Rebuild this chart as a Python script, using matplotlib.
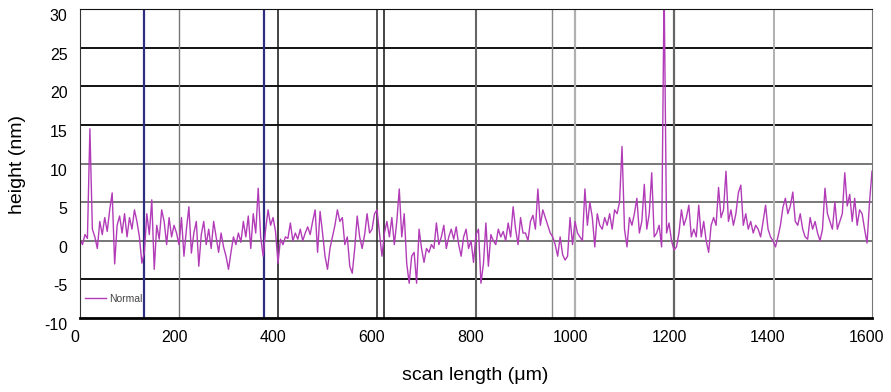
import numpy as np
import matplotlib
matplotlib.use("Agg")
import matplotlib.pyplot as plt
import matplotlib.transforms as mtransforms

plt.rcParams['font.family'] = ['Liberation Sans', 'DejaVu Sans']
plt.rcParams['axes.unicode_minus'] = False

# surface profile, one value every 5 um from 0 to 1600
step_um = 5
height_nm = [
    # 0-95
    0.2, -0.5, 0.8, 0.3, 14.5, 1.5, 0.5, -1.0, 2.5, 0.8,
    3.0, 1.2, 4.0, 6.2, -3.0, 2.0, 3.2, 1.0, 3.5, 0.5,
    # 100-195
    3.0, 1.5, 4.0, 2.5, 0.5, -2.9, -1.5, 3.5, 0.8, 5.3,
    -3.7, 2.0, 0.2, 4.0, 2.5, -0.5, 3.0, 0.5, 2.0, 1.0,
    # 200-295
    -0.5, 3.0, -2.0, 1.5, 4.4, -1.6, 1.0, 2.5, -3.3, 0.8,
    2.5, -0.5, 1.5, -1.0, 2.5, 0.5, -1.5, 1.0, -0.8, -2.0,
    # 300-395
    -3.7, -1.5, 0.5, -0.5, 1.0, -0.2, 2.5, 0.5, 3.2, -1.0,
    3.5, 1.0, 6.8, 0.5, -2.0, 1.5, 4.0, 2.0, 3.0, 1.2,
    # 400-495
    -2.9, 0.2, -0.5, 0.5, 0.3, 2.3, 0.0, 1.0, 0.2, 1.5,
    0.0, 1.0, 1.8, 0.8, 2.5, 4.0, -1.5, 3.8, 1.0, -2.0,
    # 500-595
    -3.7, -1.0, 0.5, 2.0, 4.0, 2.5, 3.0, -0.5, 0.5, -3.3,
    -4.2, -1.0, 3.2, 0.5, -1.0, 0.8, 3.5, 1.0, 1.5, 3.5,
    # 600-695
    4.0, 1.0, -2.0, 1.0, 2.5, 0.5, 3.0, -0.5, 2.5, 6.7,
    0.5, 3.5, -2.9, -5.5, -2.0, -1.5, -5.5, 1.5, -1.0, -2.8,
    # 700-795
    -1.0, -1.5, -0.5, -1.0, 2.3, -0.5, 0.5, 2.0, -1.0, 0.5,
    1.5, 0.2, 1.8, -0.5, -2.0, 0.5, 1.5, -1.0, 0.0, -2.8,
    # 800-895
    0.8, 1.5, -5.5, -3.0, 2.3, -3.3, 0.8, 0.0, -0.5, 1.5,
    0.5, 1.2, 0.0, 2.3, 0.5, 4.4, 1.5, -0.5, 3.0, 1.0,
    # 900-995
    1.0, 0.0, 2.5, 3.3, 1.5, 6.7, 2.0, 4.0, 3.0, 2.0,
    1.0, 0.5, -0.5, -2.0, 0.5, -1.8, -2.5, -2.0, 3.0, -0.5,
    # 1000-1095
    2.5, 1.0, 0.5, 0.0, 6.7, 2.0, 5.0, 3.0, -0.8, 3.5,
    2.0, 1.5, 3.0, 2.0, 3.5, 1.5, 4.0, 3.5, 5.0, 12.2,
    # 1100-1195
    1.5, -0.8, 3.0, 2.0, 3.5, 5.5, 1.0, 2.5, 7.3, 1.5,
    3.5, 8.8, 0.5, 1.0, 2.0, -0.8, 33.0, 1.0, 2.3, 0.0,
    # 1200-1295
    -1.2, -0.8, 1.0, 4.0, 2.0, 3.0, 4.6, 0.5, 1.5, 0.5,
    4.6, 0.5, 2.5, 0.0, -1.5, 2.0, 3.0, 2.0, 6.9, 3.0,
    # 1300-1395
    4.0, 9.0, 2.5, 4.0, 2.0, 3.5, 6.2, 7.2, 2.0, 3.5,
    1.5, 2.5, 1.0, 2.0, 1.5, 0.5, 2.5, 4.6, 1.5, 0.5,
    # 1400-1495
    0.0, -0.8, 0.5, 2.0, 4.3, 5.5, 3.5, 4.5, 6.3, 2.5,
    2.0, 3.5, 1.5, 0.5, 0.2, 3.0, 1.5, 2.5, 1.0, 0.0,
    # 1500-1600
    1.5, 6.8, 3.5, 2.5, 1.5, 5.0, 1.5, 2.5, 3.5, 8.8,
    4.5, 6.0, 2.5, 5.5, 2.0, 4.0, 3.5, 1.5, -0.3, 5.0,
    9.0,
]
scan_um = np.arange(len(height_nm)) * step_um

# extra vertical marker lines seen on the chart (position um, colour, width)
vline_pos = [129.5, 200.9, 371.6, 401, 599.3, 613.5, 800.4, 954, 1001, 1201, 1401.8]
vline_col = ['#2e2e80', '#777777', '#2e2e80', '#111111', '#222222', '#111111',
             '#666666', '#888888', '#b0b0b0', '#666666', '#b0b0b0']
vline_lw = [1.6, 1.0, 1.6, 1.1, 1.1, 1.1, 1.5, 1.0, 1.6, 1.6, 1.4]

hgrid_vals = [-5, 0, 5, 10, 15, 20, 25]
hgrid_col = ['#111111', '#777777', '#777777', '#777777', '#111111', '#111111', '#111111']

fig = plt.figure(figsize=(8.91, 3.92), dpi=100)
ax = fig.add_axes([80 / 891, 1 - 318 / 392, 792 / 891, 309 / 392])

for v, c in zip(hgrid_vals, hgrid_col):
    ax.axhline(v, color=c, lw=1.4, zorder=1)
for p, c, w in zip(vline_pos, vline_col, vline_lw):
    ax.axvline(p, color=c, lw=w, zorder=1)

ax.plot(scan_um, height_nm, color='#b23cb8', lw=1.0, zorder=2, label='Normal')

ax.set_xlim(0, 1600)
ax.set_ylim(-10, 30)
ax.set_xticks(np.arange(0, 1601, 200))
ax.set_yticks(np.arange(-10, 31, 5))
ax.tick_params(length=0, labelsize=11.5, pad=9)

# tick labels in the picture sit a few pixels off the grid
offx = mtransforms.ScaledTranslation(-5 / 100, 0, fig.dpi_scale_trans)
for lab in ax.get_xticklabels():
    lab.set_transform(lab.get_transform() + offx)
offy = mtransforms.ScaledTranslation(0, -6 / 100, fig.dpi_scale_trans)
for lab in ax.get_yticklabels():
    lab.set_transform(lab.get_transform() + offy)

ax.spines['top'].set_color('#111111')
ax.spines['left'].set_color('#333333')
ax.spines['right'].set_color('#777777')
ax.spines['bottom'].set_color('#000000')
ax.spines['bottom'].set_linewidth(2)

leg = ax.legend(loc='lower left', frameon=False, fontsize=7.5, handlelength=2.0,
                handletextpad=0.3, borderaxespad=0.1, bbox_to_anchor=(0.0, 0.03))
for t in leg.get_texts():
    t.set_color('#444444')

fig.text(18 / 891, 1 - 165 / 392, 'height (nm)', rotation=90, ha='center', va='center', fontsize=14)
fig.text(475 / 891, 1 - 376 / 392, 'scan length (\u03bcm)', ha='center', va='center', fontsize=14)

fig.savefig('out.png', dpi=100)
